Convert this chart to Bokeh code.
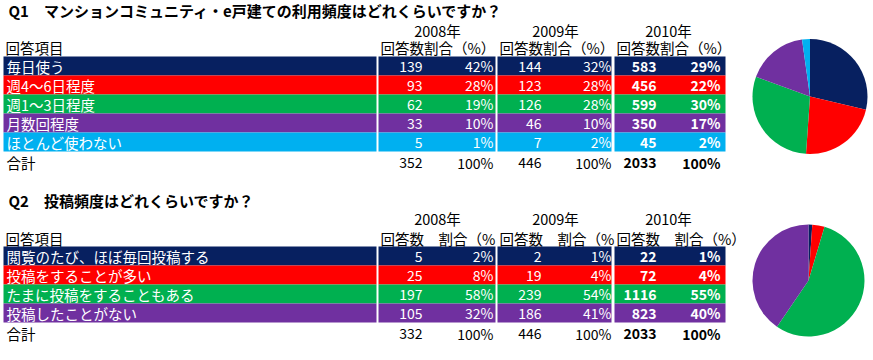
import math
from bokeh.plotting import figure
from bokeh.models import Range1d
from bokeh.core.properties import value
from bokeh.embed import file_html
from bokeh.resources import INLINE

# ---------------- data ----------------
years = ["2008年", "2009年", "2010年"]
colors = ["#072060", "#FF0000", "#00B050", "#7030A0", "#00B0F0"]

q1_title = "Q1　マンションコミュニティ・e戸建ての利用頻度はどれくらいですか？"
q1_items = ["毎日使う", "週4～6日程度", "週1～3日程度", "月数回程度", "ほとんど使わない"]
q1_counts_2008 = [139, 93, 62, 33, 5]
q1_pcts_2008 = [42, 28, 19, 10, 1]
q1_counts_2009 = [144, 123, 126, 46, 7]
q1_pcts_2009 = [32, 28, 28, 10, 2]
q1_counts_2010 = [583, 456, 599, 350, 45]
q1_pcts_2010 = [29, 22, 30, 17, 2]
q1_totals = [352, 446, 2033]
q1_sub = [["回答数割合（%）"], ["回答数割合（%）"], ["回答数割合（%）"]]

q2_title = "Q2　投稿頻度はどれくらいですか？"
q2_items = ["閲覧のたび、ほぼ毎回投稿する", "投稿をすることが多い", "たまに投稿をすることもある", "投稿したことがない"]
q2_counts_2008 = [5, 25, 197, 105]
q2_pcts_2008 = [2, 8, 58, 32]
q2_counts_2009 = [2, 19, 239, 186]
q2_pcts_2009 = [1, 4, 54, 41]
q2_counts_2010 = [22, 72, 1116, 823]
q2_pcts_2010 = [1, 4, 55, 40]
q2_totals = [332, 446, 2033]
q2_sub = [["回答数", "割合（%"], ["回答数", "割合（%"], ["回答数", "割合（%）"]]

head_label = "回答項目"
total_label = "合計"
total_pct = "100%"

# ---------------- layout ----------------
W, H = 873, 360
FONT = value("Noto Sans CJK JP")
FS = value("14.5px")
FS_NUM = value("14px")
ROW_H = 19
label_x0, label_x1 = 3, 376
blocks = [(378, 495), (497, 611), (614, 725)]
count_right = [422, 541, 656]
pct_right = [493, 611, 720]
year_center = [437, 555, 668]

p = figure(width=W, height=H, output_backend="svg", toolbar_location=None,
           x_range=Range1d(0, W), y_range=Range1d(H, 0), min_border=0)
p.axis.visible = False
p.grid.visible = False
p.outline_line_color = None
p.background_fill_color = "white"
p.border_fill_color = "white"


def txt(x, y, s, align="left", bold=False, color="black", size=FS):
    p.text(x=[x], y=[y], text=[s], text_align=align, text_baseline="middle",
           text_font=FONT, text_font_size=size, text_color=color,
           text_font_style="bold" if bold else "normal")


def section(title, title_y, year_y, sub_y, row_top, items, counts, pcts, totals,
            subs, pie_cx, pie_cy, pie_r):
    txt(8, title_y, title, bold=True, size=value("15px"))
    for j in range(3):
        txt(year_center[j], year_y, years[j], align="center")
        if len(subs[j]) == 1:
            txt(blocks[j][0] + 2, sub_y, subs[j][0])
        else:
            txt(blocks[j][0] + 2, sub_y, subs[j][0])
            txt(blocks[j][0] + 60, sub_y, subs[j][1])
    txt(5, sub_y, head_label)
    n = len(items)
    tops = [row_top + i * ROW_H for i in range(n)]
    bots = [t + ROW_H for t in tops]
    cols = colors[:n]
    p.quad(left=label_x0, right=label_x1, top=tops, bottom=bots, fill_color=cols, line_color=None)
    for (l, r) in blocks:
        p.quad(left=l, right=r, top=tops, bottom=bots, fill_color=cols, line_color=None)
    ys = [t + ROW_H / 2 for t in tops]
    p.text(x=[6] * n, y=ys, text=items, text_align="left", text_baseline="middle",
           text_font=FONT, text_font_size=FS, text_color="white")
    for j in range(3):
        bold = "bold" if j == 2 else "normal"
        p.text(x=[count_right[j]] * n, y=ys, text=[str(v) for v in counts[j]],
               text_align="right", text_baseline="middle", text_font=FONT,
               text_font_size=FS_NUM, text_color="white", text_font_style=bold)
        p.text(x=[pct_right[j]] * n, y=ys, text=[f"{v}%" for v in pcts[j]],
               text_align="right", text_baseline="middle", text_font=FONT,
               text_font_size=FS_NUM, text_color="white", text_font_style=bold)
    ty = bots[-1] + 11
    txt(6, ty, total_label)
    for j in range(3):
        txt(count_right[j], ty, str(totals[j]), align="right", bold=(j == 2), size=FS_NUM)
        txt(pct_right[j], ty, total_pct, align="right", bold=(j == 2), size=FS_NUM)
    # pie of latest year, clockwise from 12 o'clock
    vals = counts[2]
    s = float(sum(vals))
    cum = 0.0
    starts, ends = [], []
    for v in vals:
        a0 = math.pi / 2 - 2 * math.pi * cum / s
        cum += v
        a1 = math.pi / 2 - 2 * math.pi * cum / s
        starts.append(a1)
        ends.append(a0)
    p.wedge(x=[pie_cx] * n, y=[pie_cy] * n, radius=pie_r, radius_units="screen",
            start_angle=starts, end_angle=ends, fill_color=cols, line_color=None)


section(q1_title, 10, 30, 47, 56, q1_items,
        [q1_counts_2008, q1_counts_2009, q1_counts_2010],
        [q1_pcts_2008, q1_pcts_2009, q1_pcts_2010], q1_totals, q1_sub,
        809.5, 96, 57.5)
section(q2_title, 200, 218, 238, 246, q2_items,
        [q2_counts_2008, q2_counts_2009, q2_counts_2010],
        [q2_pcts_2008, q2_pcts_2009, q2_pcts_2010], q2_totals, q2_sub,
        808, 280, 56)

html = file_html(p, INLINE)
html = html.replace("<head>", "<head><style>html,body{margin:0;padding:0;overflow:hidden;}</style>", 1)
open("out.html", "w").write(html)
